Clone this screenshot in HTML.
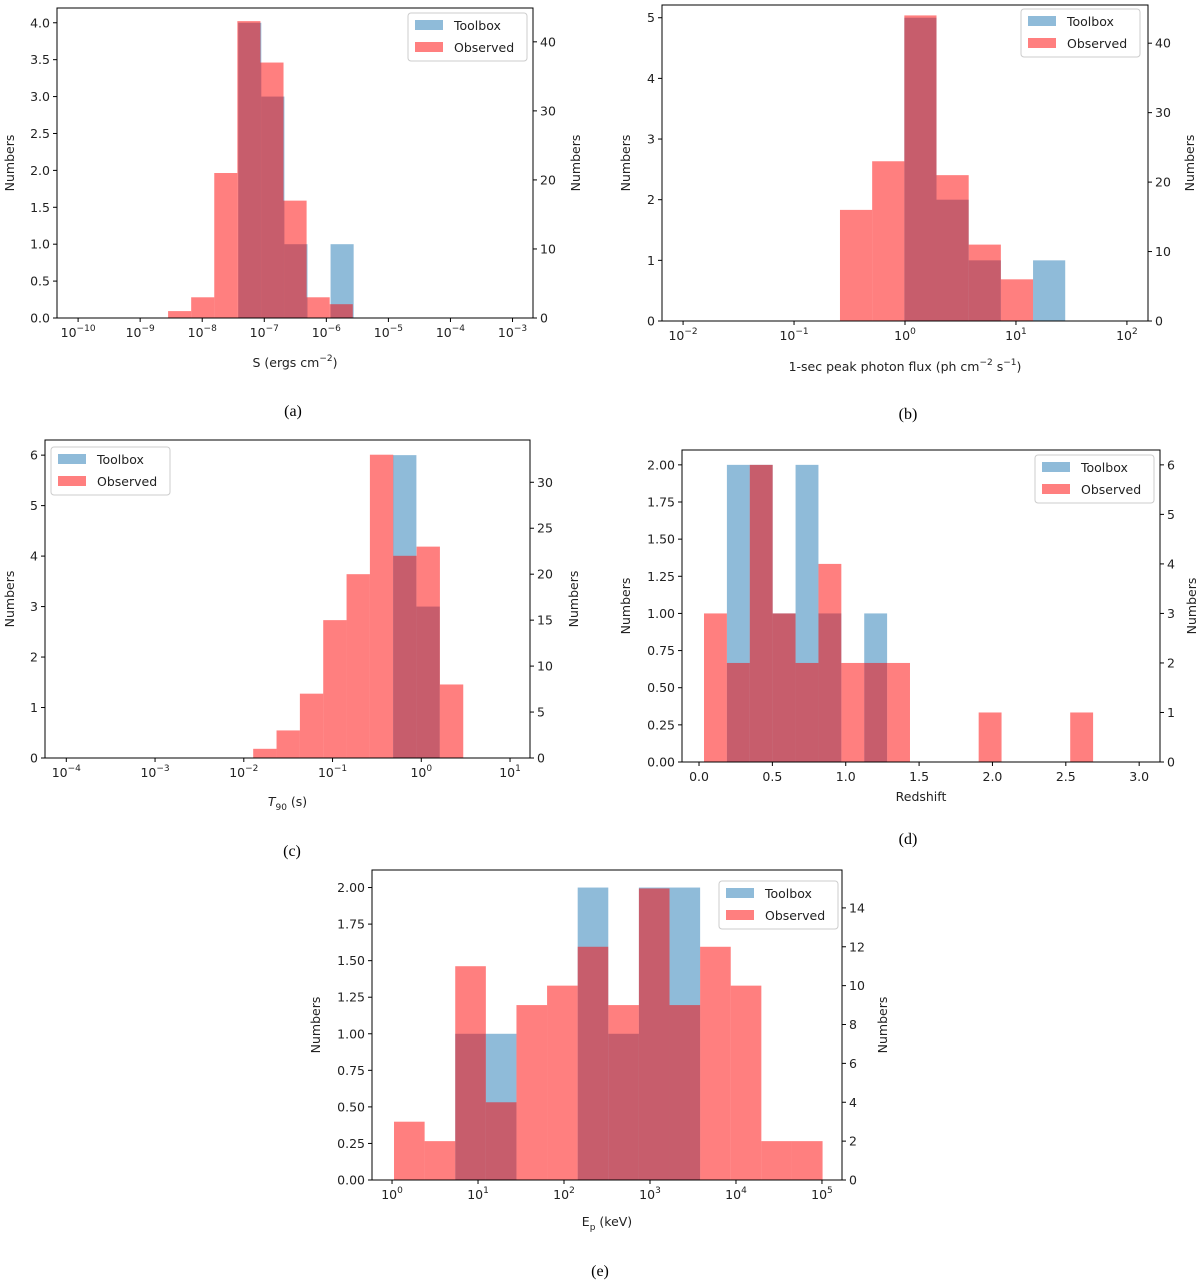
<!DOCTYPE html>
<html><head><meta charset="utf-8"><style>
body{margin:0;background:#fff}
svg text{font-family:"DejaVu Sans","Liberation Sans",sans-serif;font-size:12.5px;fill:#222}
.cap{font-family:"Liberation Serif",serif;font-size:16px;fill:#000}
</style></head><body>
<svg id="fig" width="1200" height="1282" viewBox="0 0 1200 1282" xmlns="http://www.w3.org/2000/svg"></svg>
<script>
// Panel (a) fluence S, log10 bin starts, width in decades
const aBlueStart=-7.42, aRedStart=-8.55, aWidth=0.372;
const aBlue=[4,3,1,0,1];
const aRed=[1,3,21,43,37,17,3,2];
// Panel (b) peak photon flux
const bBlueStart=-0.006, bRedStart=-0.586, bWidth=0.29;
const bBlue=[5,2,1,0,1];
const bRed=[16,23,44,21,11,6];
// Panel (c) T90
const cBlueStart=-0.318, cRedStart=-1.894, cWidth=0.263;
const cBlue=[6,3];
const cRed=[1,3,7,15,20,33,22,23,8];
// Panel (d) redshift (linear)
const dStart=0.034, dWidth=0.156;
const dBlue=[0,2,2,1,2,1,0,1,0];
const dRed=[3,2,6,3,2,4,2,2,2,0,0,0,1,0,0,0,1];
// Panel (e) Ep
const eStart=0.023, eWidth=0.356;
const eBlue=[0,0,1,1,0,0,2,1,2,2,0,0,0,0];
const eRed=[3,2,11,4,9,10,12,9,15,9,12,10,2,2];

const NS='http://www.w3.org/2000/svg';
const svg=document.getElementById('fig');
function el(tag,attrs,parent){const e=document.createElementNS(NS,tag);for(const k in attrs)e.setAttribute(k,attrs[k]);(parent||svg).appendChild(e);return e;}

function panel(p){
  const g=el('g',{});
  
  
  const X=v=>p.x0+(v-p.xmin)/(p.xmax-p.xmin)*(p.x1-p.x0);
  const YL=v=>p.y1-v/p.lmax*(p.y1-p.y0);
  const YR=v=>p.y1-v/p.rmax*(p.y1-p.y0);
  p.blue.forEach((c,i)=>{ if(!c)return;
    const a=X(p.bStart+i*p.w), b=X(p.bStart+(i+1)*p.w);
    const r=el('rect',{x:a,y:YL(c),width:b-a,height:p.y1-YL(c),fill:'#1f77b4','fill-opacity':0.5},g);
    
    
  });
  p.red.forEach((c,i)=>{ if(!c)return;
    const a=X(p.rStart+i*p.w), b=X(p.rStart+(i+1)*p.w);
    const r=el('rect',{x:a,y:YR(c),width:b-a,height:p.y1-YR(c),fill:'#ff0000','fill-opacity':0.5},g);
    
    
  });
  el('rect',{x:p.x0,y:p.y0,width:p.x1-p.x0,height:p.y1-p.y0,fill:'none',stroke:'#000','stroke-width':1},g);
  p.xticks.forEach(t=>{
    const x=X(t);
    el('line',{x1:x,x2:x,y1:p.y1,y2:p.y1+4,stroke:'#000'},g);
    const tx=el('text',{x:x,y:p.y1+19,'text-anchor':'middle'},g);
    if(p.log){tx.textContent='10';const s=el('tspan',{dy:-6,'font-size':'9px'},tx);s.textContent=(t<0?'\u2212'+(-t):t);}
    else tx.textContent=t.toFixed(1);
  });
  p.lticks.forEach(t=>{const y=YL(t);
    el('line',{x1:p.x0-4,x2:p.x0,y1:y,y2:y,stroke:'#000'},g);
    const tx=el('text',{x:p.x0-7,y:y+4.5,'text-anchor':'end'},g);tx.textContent=t.toFixed(p.ldec);});
  p.rticks.forEach(t=>{const y=YR(t);
    el('line',{x1:p.x1,x2:p.x1+4,y1:y,y2:y,stroke:'#000'},g);
    const tx=el('text',{x:p.x1+7,y:y+4.5},g);tx.textContent=t;});
  const cy=(p.y0+p.y1)/2;
  const yl=el('text',{x:0,y:0,'text-anchor':'middle',transform:`translate(${p.lyx},${cy}) rotate(-90)`},g);
  yl.textContent='Numbers';
  const yr=el('text',{x:0,y:0,'text-anchor':'middle',transform:`translate(${p.ryx},${cy}) rotate(-90)`},g);
  yr.textContent='Numbers';
  const xl=el('text',{x:(p.x0+p.x1)/2,y:p.y1+p.xly,'text-anchor':'middle'},g);
  xl.innerHTML=p.xlabel;
  const L=p.leg;
  const lg=el('g',{},g);
  el('rect',{x:L[0],y:L[1],width:119,height:48,rx:3,fill:'#fff','fill-opacity':0.8,stroke:'#ccc'},lg);
  el('rect',{x:L[0]+7,y:L[1]+7,width:28,height:10,fill:'#1f77b4','fill-opacity':0.5},lg);
  el('rect',{x:L[0]+7,y:L[1]+29,width:28,height:10,fill:'#ff0000','fill-opacity':0.5},lg);
  const t1=el('text',{x:L[0]+46,y:L[1]+17},lg);t1.textContent='Toolbox';
  const t2=el('text',{x:L[0]+46,y:L[1]+39},lg);t2.textContent='Observed';
  const cap=el('text',{x:p.cap[0],y:p.cap[1],'text-anchor':'middle','class':'cap'},g);cap.textContent=p.capt;
}
const rng=(a,b,s)=>{const r=[];for(let v=a;v<=b+1e-9;v+=s)r.push(+v.toFixed(4));return r;};
panel({name:'panel-a-fluence',x0:57,x1:533,y0:8,y1:318,xmin:-10.34,xmax:-2.67,lmax:4.2,rmax:44.9,log:true,
  xticks:rng(-10,-3,1),lticks:rng(0,4,0.5),ldec:1,rticks:[0,10,20,30,40],
  blue:aBlue,red:aRed,bStart:aBlueStart,rStart:aRedStart,w:aWidth,lyx:14,ryx:580,xly:49,
  xlabel:'S (ergs cm<tspan dy="-6" font-size="9px">\u22122</tspan><tspan dy="6">)</tspan>',leg:[408,13],cap:[293,416],capt:'(a)'});
panel({name:'panel-b-peak-flux',x0:662,x1:1148,y0:5,y1:321,xmin:-2.19,xmax:2.19,lmax:5.21,rmax:45.5,log:true,
  xticks:rng(-2,2,1),lticks:rng(0,5,1),ldec:0,rticks:[0,10,20,30,40],
  blue:bBlue,red:bRed,bStart:bBlueStart,rStart:bRedStart,w:bWidth,lyx:630,ryx:1194,xly:50,
  xlabel:'1-sec peak photon flux (ph cm<tspan dy="-6" font-size="9px">\u22122</tspan><tspan dy="6"> s</tspan><tspan dy="-6" font-size="9px">\u22121</tspan><tspan dy="6">)</tspan>',leg:[1021,9],cap:[908,419],capt:'(b)'});
panel({name:'panel-c-t90',x0:45,x1:530,y0:440,y1:758,xmin:-4.24,xmax:1.225,lmax:6.3,rmax:34.6,log:true,
  xticks:rng(-4,1,1),lticks:rng(0,6,1),ldec:0,rticks:[0,5,10,15,20,25,30],
  blue:cBlue,red:cRed,bStart:cBlueStart,rStart:cRedStart,w:cWidth,lyx:14,ryx:578,xly:48,
  xlabel:'<tspan font-style="italic">T</tspan><tspan dy="4" font-size="9px">90</tspan><tspan dy="-4"> (s)</tspan>',leg:[51,447],cap:[292,856],capt:'(c)'});
panel({name:'panel-d-redshift',x0:682,x1:1160,y0:450,y1:762,xmin:-0.116,xmax:3.142,lmax:2.1,rmax:6.3,log:false,
  xticks:rng(0,3,0.5),lticks:rng(0,2,0.25),ldec:2,rticks:[0,1,2,3,4,5,6],
  blue:dBlue,red:dRed,bStart:dStart,rStart:dStart,w:dWidth,lyx:630,ryx:1196,xly:39,
  xlabel:'Redshift',leg:[1035,455],cap:[908,844],capt:'(d)'});
panel({name:'panel-e-ep',x0:372,x1:842,y0:870,y1:1180,xmin:-0.233,xmax:5.233,lmax:2.12,rmax:15.95,log:true,
  xticks:rng(0,5,1),lticks:rng(0,2,0.25),ldec:2,rticks:[0,2,4,6,8,10,12,14],
  blue:eBlue,red:eRed,bStart:eStart,rStart:eStart,w:eWidth,lyx:320,ryx:887,xly:46,
  xlabel:'E<tspan dy="4" font-size="9px">p</tspan><tspan dy="-4"> (keV)</tspan>',leg:[719,881],cap:[600,1276],capt:'(e)'});
</script>
</body></html>
